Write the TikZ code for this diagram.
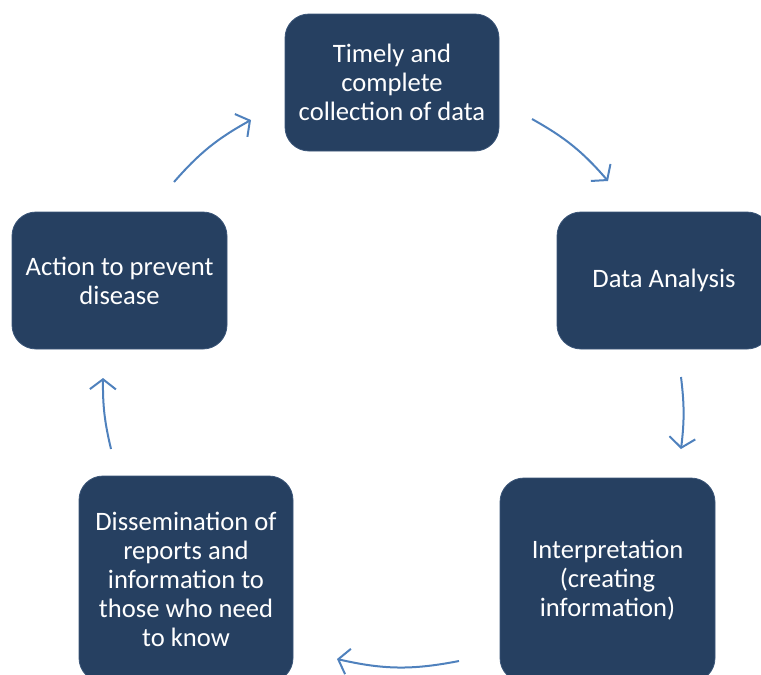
\documentclass[tikz,border=0pt]{standalone}
\usepackage{fontspec}
\setmainfont{Carlito}
\usetikzlibrary{arrows.meta}
\definecolor{boxfill}{HTML}{264061}
\definecolor{boxedge}{HTML}{3A5578}
\definecolor{arrowblue}{HTML}{4F81BD}
\tikzset{
  stepbox/.style={draw=boxedge, line width=0.8pt, fill=boxfill, rounded corners=24pt,
    text=white, align=center, inner sep=0pt,
    font=\fontsize{26.6pt}{29pt}\selectfont},
  cyc/.style={draw=arrowblue, line width=2pt,
    -{Straight Barb[length=10pt,width=26pt,line width=2pt]}}
}
\begin{document}
\begin{tikzpicture}[x=1pt,y=1pt]
\useasboundingbox (0,-675) rectangle (761,0);
\clip (0,-675) rectangle (761,0);
\node[stepbox, minimum width=214pt, minimum height=137pt] (collect) at (392,-82.5)
  {Timely and\\complete\\collection of data};
\node[stepbox, minimum width=214pt, minimum height=137pt] (analysis) at (664,-280.5)
  {Data Analysis};
\node[stepbox, minimum width=215pt, minimum height=204pt] (interp) at (607.5,-580)
  {Interpretation\\(creating\\information)};
\node[stepbox, minimum width=214pt, minimum height=206pt] (dissem) at (186,-579)
  {Dissemination of\\reports and\\information to\\those who need\\to know};
\node[stepbox, minimum width=215pt, minimum height=137pt] (action) at (119.5,-280.5)
  {Action to prevent\\disease};
% connector end points
\coordinate (a1s) at (532,-119);
\coordinate (a1e) at (608,-181);
\coordinate (a2s) at (681,-377);
\coordinate (a2e) at (681,-449);
\coordinate (a3s) at (459,-661);
\coordinate (a3e) at (337,-659);
\coordinate (a4s) at (111,-449);
\coordinate (a4e) at (103,-378);
\coordinate (a5s) at (174,-182);
\coordinate (a5e) at (251,-120);
\draw[cyc] (a1s) to[bend left=10] (a1e);
\draw[cyc] (a2s) to[bend left=7] (a2e);
\draw[cyc] (a3s) to[bend left=12] (a3e);
\draw[cyc] (a4s) to[bend left=7] (a4e);
\draw[cyc] (a5s) to[bend left=10] (a5e);
\end{tikzpicture}
\end{document}
